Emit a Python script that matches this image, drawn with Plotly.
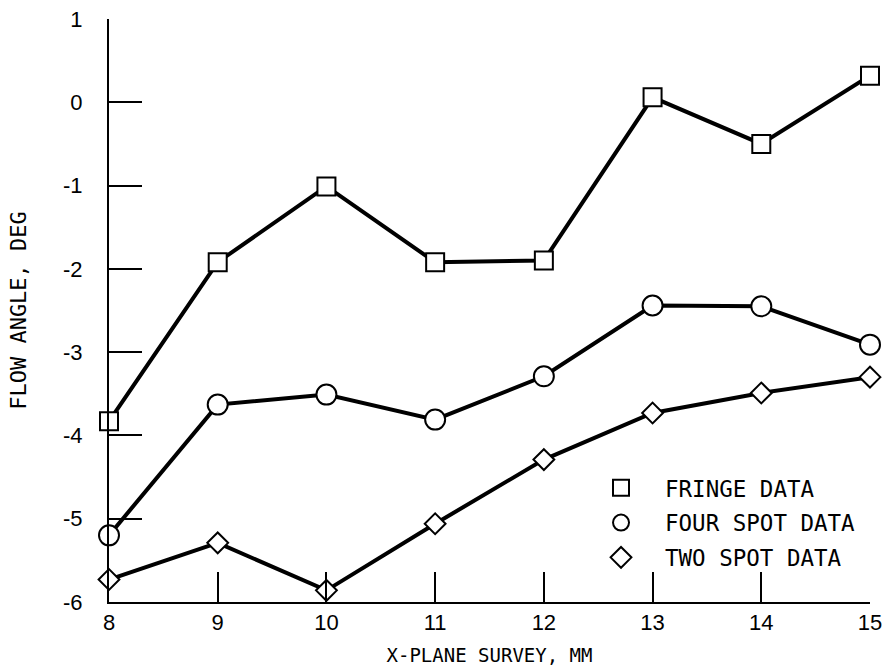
import plotly.graph_objects as go

x_mm = [8, 9, 10, 11, 12, 13, 14, 15]
fringe = [-3.83, -1.92, -1.01, -1.92, -1.90, 0.06, -0.50, 0.32]
four_spot = [-5.20, -3.63, -3.51, -3.81, -3.29, -2.44, -2.45, -2.91]
two_spot = [-5.73, -5.29, -5.86, -5.06, -4.29, -3.73, -3.49, -3.30]

series_names = ["FRINGE DATA", "FOUR SPOT DATA", "TWO SPOT DATA"]
x_ticks = [8, 9, 10, 11, 12, 13, 14, 15]
x_tick_text = ["8", "9", "10", "11", "12", "13", "14", "15"]
y_ticks = [-6, -5, -4, -3, -2, -1, 0, 1]
y_tick_text = ["-6", "-5", "-4", "-3", "-2", "-1", "0", "1"]

symbols = ["square", "circle", "diamond"]
sizes = [18, 20, 16]
series = [fringe, four_spot, two_spot]

fig = go.Figure()
for name, vals, sym, sz in zip(series_names, series, symbols, sizes):
    fig.add_trace(go.Scatter(
        x=x_mm, y=vals, mode="lines+markers", showlegend=False,
        line=dict(color="black", width=4),
        marker=dict(symbol=sym, size=sz, color="white",
                    line=dict(color="black", width=2)),
        cliponaxis=False,
    ))

for i, (name, sym) in enumerate(zip(series_names, symbols)):
    fig.add_trace(go.Scatter(
        x=[None], y=[None], mode="markers", name=name, legendgroup=f"g{i}",
        marker=dict(symbol=sym, size=18, color="white",
                    line=dict(color="black", width=2)),
    ))

axis_font = dict(family="Liberation Sans", size=22, color="black")
xtitle_font = dict(family="DejaVu Sans Mono", size=19, color="black")
ytitle_font = dict(family="DejaVu Sans Mono", size=22, color="black")

fig.update_layout(
    width=886, height=669,
    margin=dict(l=109, r=16, t=19, b=67),
    paper_bgcolor="white", plot_bgcolor="white",
    showlegend=True,
    legend=dict(
        x=0.615, y=0.232, xanchor="left", yanchor="top",
        font=dict(family="DejaVu Sans Mono", size=22.5, color="black"),
        bgcolor="rgba(0,0,0,0)", traceorder="grouped", tracegroupgap=2.5,
        itemwidth=78,
    ),
    xaxis=dict(
        range=[8, 15], tickvals=x_ticks, ticktext=x_tick_text,
        ticks="inside", ticklen=30, tickwidth=2, tickcolor="black",
        showline=True, linewidth=2, linecolor="black",
        showgrid=False, zeroline=False, tickfont=axis_font,
        ticklabeloverflow="allow",
        title=dict(text="X-PLANE SURVEY, MM", font=xtitle_font, standoff=14),
        automargin=False,
    ),
    yaxis=dict(
        range=[-6, 1], tickvals=y_ticks, ticktext=y_tick_text,
        ticks="inside", ticklen=33, tickwidth=2, tickcolor="black",
        showline=True, linewidth=2, linecolor="black",
        showgrid=False, zeroline=False, tickfont=axis_font,
        ticklabelstandoff=20, ticklabeloverflow="allow",
        title=dict(text="FLOW ANGLE, DEG", font=ytitle_font, standoff=30),
        automargin=False,
    ),
)

fig.write_html(
    "out.html",
    config={"displayModeBar": False},
    post_script="document.body.style.margin='0';document.body.style.overflow='hidden';",
)
